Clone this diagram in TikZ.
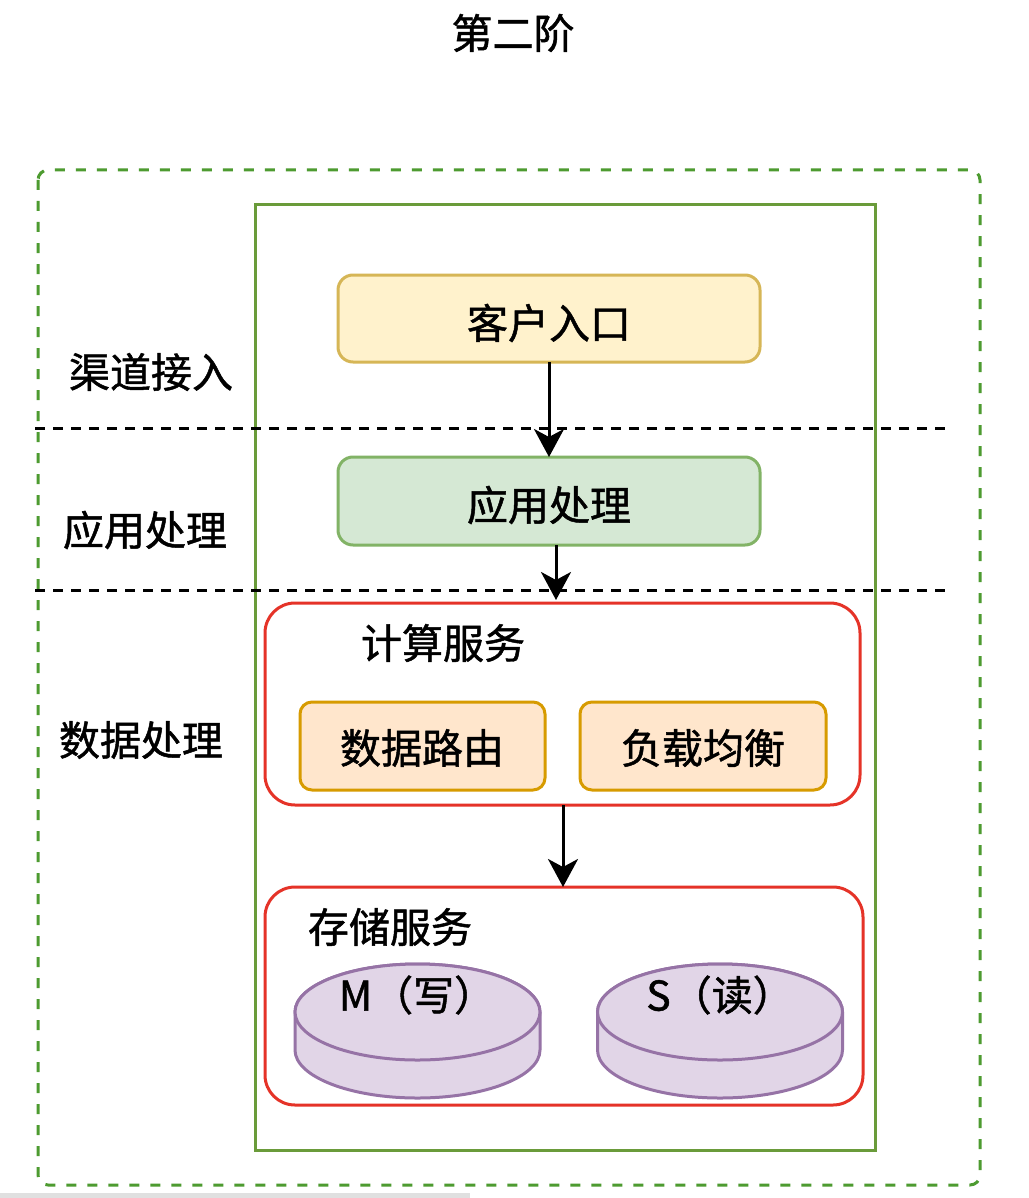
\documentclass[tikz,border=0pt]{standalone}
\usepackage{fontspec}
\setmainfont{Noto Sans CJK SC}[FakeBold=1.2]
\usetikzlibrary{arrows.meta,shapes.geometric}
\definecolor{outgreen}{RGB}{77,155,48}
\definecolor{ingreen}{RGB}{106,155,58}
\definecolor{redline}{RGB}{229,51,40}
\definecolor{yfill}{HTML}{FFF2CC}
\definecolor{ystroke}{HTML}{D6B656}
\definecolor{gfill}{HTML}{D5E8D4}
\definecolor{gstroke}{HTML}{82B366}
\definecolor{ofill}{HTML}{FFE6CC}
\definecolor{ostroke}{HTML}{D79B00}
\definecolor{pfill}{HTML}{E1D5E7}
\definecolor{pstroke}{HTML}{9673A6}
\tikzset{
  txt/.style={font=\fontsize{41}{45}\selectfont, inner sep=0pt},
  boxy/.style={draw=ystroke, fill=yfill, line width=3pt, rounded corners=15pt},
  boxg/.style={draw=gstroke, fill=gfill, line width=3pt, rounded corners=15pt},
  boxo/.style={draw=ostroke, fill=ofill, line width=3pt, rounded corners=12pt},
  redbox/.style={draw=redline, fill=white, line width=3pt, rounded corners=30pt},
  sep/.style={draw=black, line width=3pt, dash pattern=on 10pt off 8pt},
  arr/.style={draw=black, line width=3pt, -{Stealth[length=28pt,width=30pt,inset=8pt]}},
  cyl/.style={draw=pstroke, fill=pfill, line width=3pt}
}
\begin{document}
\begin{tikzpicture}[x=1pt,y=-1pt]
\useasboundingbox (0,0) rectangle (1028,1198);
\fill[white] (0,0) rectangle (1028,1198);
\fill[black!12] (0,1193) rectangle (470,1198);

\node[txt] (title) at (513,33) {第二阶};

% outer dashed container
\draw[outgreen, line width=3pt, dash pattern=on 10pt off 11pt, rounded corners=10pt]
  (38,170) rectangle (980,1185);
% inner solid container
\draw[ingreen, line width=3pt] (255,205) rectangle (875,1150);

% separators
\coordinate (s1a) at (35,428); \coordinate (s1b) at (945,428);
\coordinate (s2a) at (35,590); \coordinate (s2b) at (945,590);
\draw[sep] (s1a) -- (s1b);
\draw[sep] (s2a) -- (s2b);

% side labels
\node[txt] (l1) at (151,372) {渠道接入};
\node[txt] (l2) at (145,530) {应用处理};
\node[txt] (l3) at (141,740) {数据处理};

% boxes
\draw[boxy] (338,275) rectangle (760,362);
\node[txt] (entry) at (549,323) {客户入口};
\coordinate (entryB) at (549,362);
\draw[boxg] (338,457) rectangle (760,545);
\node[txt] (app) at (549,505) {应用处理};
\coordinate (appT) at (549,457);
\coordinate (appB) at (556,545);

% compute container
\draw[redbox] (265,603) rectangle (860,805);
\node[txt] (comp) at (443,643) {计算服务};
\coordinate (compT) at (556,600);
\coordinate (compB) at (563,805);
\draw[boxo] (300,702) rectangle (545,790);
\node[txt] (route) at (422,748) {数据路由};
\draw[boxo] (580,702) rectangle (826,790);
\node[txt] (lb) at (703,748) {负载均衡};

% storage container
\draw[redbox] (265,887) rectangle (863,1105);
\node[txt] (stor) at (390,927) {存储服务};
\coordinate (storT) at (563,887);

% cylinders
\foreach \cx/\nm in {417.5/M, 720/S}{
  \draw[cyl] (\cx-122.5,1012) -- (\cx-122.5,1050) arc[start angle=180,end angle=360,x radius=122.5,y radius=-48] -- (\cx+122.5,1012) arc[start angle=0,end angle=180,x radius=122.5,y radius=-48] -- cycle;
  \draw[cyl] (\cx,1012) ellipse[x radius=122.5,y radius=48];
}
\node[txt] (mw) at (417,995) {M（写）};
\node[txt] (sr) at (720,995) {S（读）};

% arrows
\draw[arr] (entryB) -- (appT);
\draw[arr] (appB) -- (compT);
\draw[arr] (compB) -- (storT);
\end{tikzpicture}
\end{document}
